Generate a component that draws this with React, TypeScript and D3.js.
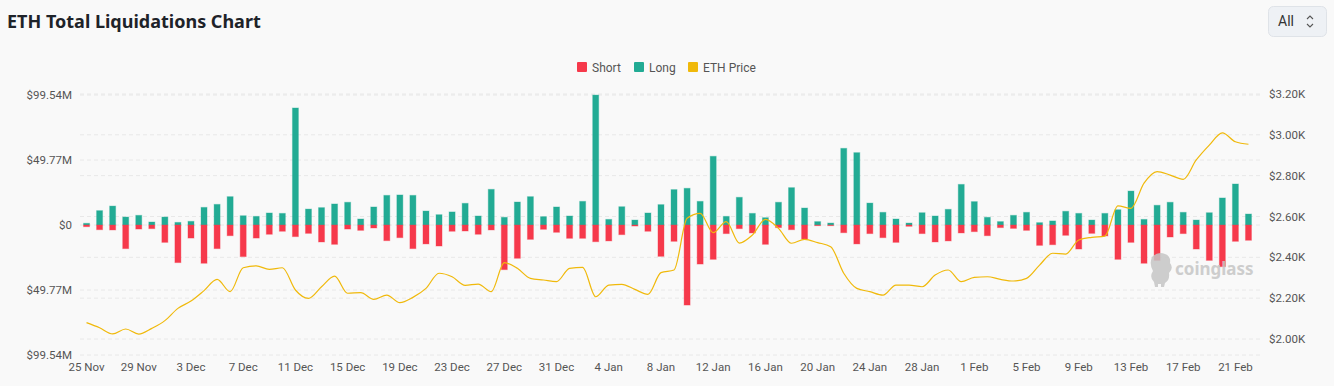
import React from 'react';
import * as d3 from 'd3';

// daily liquidations in $M, 25 Nov 2023 .. 22 Feb 2024
const longLiq = [
  1.3, 11, 14.5, 6.1, 7.4, 2.3, 6.1, 2.0, 2.8, 13.5, 15.8, 21.7, 7.1, 6.6, 9.2, 8.9, 89.6, 12.2,
  13.3, 16.1, 17.4, 4.6, 13.8, 22.7, 23.0, 22.7, 10.7, 7.9, 10.0, 16.6, 6.9, 27.3, 5.9, 17.6,
  21.7, 6.4, 13.8, 6.9, 18.1, 99.5, 4.3, 14.0, 3.8, 9.2, 15.6, 27.1, 28.1, 18.1, 52.6, 6.6,
  21.2, 8.9, 5.6, 17.4, 28.6, 13.0, 2.6, 1.5, 58.7, 55.4, 16.8, 9.7, 4.6, 1.5, 9.4, 6.9, 12.0,
  31.1, 17.9, 5.9, 2.6, 7.4, 9.7, 1.8, 3.1, 10.5, 8.9, 3.8, 8.9, 11.7, 26.0, 4.3, 15.1, 17.4,
  9.7, 3.8, 9.4, 20.7, 31.4, 8.4,
];
const shortLiq = [
  1.3, 3.6, 3.8, 18.1, 3.1, 2.8, 13.3, 28.8, 10.0, 29.3, 18.1, 8.2, 24.2, 10.0, 7.1, 4.8, 8.9,
  6.4, 13.0, 14.8, 3.1, 4.1, 2.3, 12.0, 9.7, 18.1, 14.5, 16.1, 4.8, 4.6, 7.1, 3.8, 34.2, 25.5,
  11.0, 3.3, 5.6, 10.2, 10.2, 12.8, 12.2, 7.4, 0.8, 4.8, 24.0, 12.5, 61.3, 29.9, 26.3, 6.6, 2.8,
  6.1, 14.8, 2.0, 3.6, 10.7, 0.5, 0.5, 5.9, 14.5, 6.6, 9.7, 13.3, 1.0, 6.6, 13.0, 12.2, 6.1,
  5.1, 8.2, 2.0, 2.6, 4.1, 15.6, 15.1, 7.9, 18.4, 6.4, 8.4, 26.3, 13.3, 29.3, 27.1, 9.2, 6.6,
  18.4, 27.1, 31.9, 12.5, 11.7,
];
const ethPrice = [
  2080, 2055, 2025, 2049, 2024, 2052, 2090, 2150, 2186, 2237, 2292, 2232, 2349, 2358, 2341,
  2349, 2240, 2199, 2256, 2308, 2224, 2227, 2194, 2215, 2178, 2204, 2248, 2322, 2305, 2263,
  2269, 2232, 2374, 2346, 2297, 2289, 2281, 2346, 2351, 2207, 2264, 2268, 2243, 2219, 2325,
  2338, 2591, 2615, 2521, 2575, 2470, 2509, 2586, 2542, 2469, 2488, 2472, 2452, 2322, 2248,
  2232, 2215, 2264, 2264, 2256, 2313, 2338, 2281, 2302, 2305, 2292, 2284, 2297, 2362, 2420,
  2416, 2485, 2498, 2504, 2652, 2640, 2763, 2820, 2803, 2782, 2877, 2950, 3010, 2966, 2954,
];
const days = d3.timeDay.range(new Date(2023, 10, 25), new Date(2024, 1, 23));
const leftTicks = [-99.54, -49.77, 0, 49.77, 99.54];
const priceTicks = [2000, 2200, 2400, 2600, 2800, 3000, 3200];

const SHORT = '#f6394b';
const LONG = '#22ab94';
const ETH = '#f0b90b';

export default function App() {
  const width = 1334;
  const height = 386;

  const x = d3.scalePoint<number>().domain(d3.range(days.length)).range([80, 1255]).padding(0.5);
  const y = d3.scaleLinear().domain([-99.54, 99.54]).range([355, 95]);
  const yPrice = d3.scaleLinear().domain([2000, 3200]).range([339, 94]);
  const fmtDay = d3.timeFormat('%-d %b');
  const barW = 6;

  const line = d3
    .line<number>()
    .x((_, i) => x(i)!)
    .y((d) => yPrice(d))
    .curve(d3.curveMonotoneX);

  const labelFont = 'Roboto, "Noto Sans", sans-serif';

  return (
    <svg width={width} height={height} style={{ position: 'absolute', left: 0, top: 0 }}>
      <rect width={width} height={height} fill="#f9f9f9" />
      <text x={7} y={28} fontFamily='"Noto Sans", sans-serif' fontWeight="bold" fontSize={18} fill="#1e2329">
        ETH Total Liquidations Chart
      </text>

      {/* range selector */}
      <rect x={1268.5} y={6.5} width={58} height={30} rx={5} fill="#eef1f5" stroke="#dfe3e8" />
      <text x={1278} y={26} fontFamily={labelFont} fontSize={14} fill="#333">All</text>
      <path d="M1307,19 L1310,16 L1313,19 M1307,24 L1310,27 L1313,24" fill="none" stroke="#555" strokeWidth={1.1} />

      {/* legend */}
      {[
        { label: 'Short', color: SHORT, x: 577 },
        { label: 'Long', color: LONG, x: 634 },
        { label: 'ETH Price', color: ETH, x: 688 },
      ].map((d) => (
        <g key={d.label}>
          <rect x={d.x} y={62} width={10} height={10} rx={1} fill={d.color} />
          <text x={d.x + 15} y={71.5} fontFamily={labelFont} fontSize={12} fill="#555">{d.label}</text>
        </g>
      ))}

      {/* grid */}
      {leftTicks.map((t) => (
        <line key={'l' + t} x1={80} x2={1260} y1={y(t)} y2={y(t)} stroke="#e8e8e8" strokeDasharray="4 3" />
      ))}
      {priceTicks.map((t) => (
        <line key={'p' + t} x1={80} x2={1260} y1={yPrice(t)} y2={yPrice(t)} stroke="#e8e8e8" strokeDasharray="4 3" />
      ))}

      {/* left axis */}
      {leftTicks.map((t) => (
        <text key={'lt' + t} x={72} y={y(t) + 4} textAnchor="end" fontFamily={labelFont} fontSize={11.5} fill="#555">
          {t === 0 ? '$0' : `$${Math.abs(t).toFixed(2)}M`}
        </text>
      ))}
      {/* right axis */}
      {priceTicks.map((t) => (
        <text key={'rt' + t} x={1269} y={yPrice(t) + 4} fontFamily={labelFont} fontSize={11.5} fill="#555">
          {`$${(t / 1000).toFixed(2)}K`}
        </text>
      ))}
      {/* x axis */}
      {days.map((d, i) =>
        i % 4 === 0 ? (
          <text key={'x' + i} x={x(i)} y={371} textAnchor="middle" fontFamily={labelFont} fontSize={11.5} fill="#555">
            {fmtDay(d)}
          </text>
        ) : null
      )}

      {/* bars */}
      {longLiq.map((v, i) => (
        <rect key={'lb' + i} x={x(i)! - barW / 2} y={y(v)} width={barW} height={y(0) - y(v)}
          fill={LONG} stroke={LONG} strokeOpacity={0.35} />
      ))}
      {shortLiq.map((v, i) => (
        <rect key={'sb' + i} x={x(i)! - barW / 2} y={y(0)} width={barW} height={y(-v) - y(0)}
          fill={SHORT} stroke={SHORT} strokeOpacity={0.35} />
      ))}

      {/* watermark */}
      <g opacity={0.85} fill="#c6c6c6">
        <path d="M1152,257 q6,-6 13,-3 q6,2 5,9 q4,5 -1,10 q1,7 -4,10 l-1,4 h-3 l0,-3 h-3 l0,3 h-3 l-1,-5 q-5,-5 -1,-11 q-4,-7 -1,-14 z" />
        <text x={1175} y={275} fontFamily='"Noto Sans", sans-serif' fontWeight="bold" fontSize={17}>coinglass</text>
      </g>

      {/* price line */}
      <path d={line(ethPrice)!} fill="none" stroke={ETH} strokeWidth={1.2} />
    </svg>
  );
}
